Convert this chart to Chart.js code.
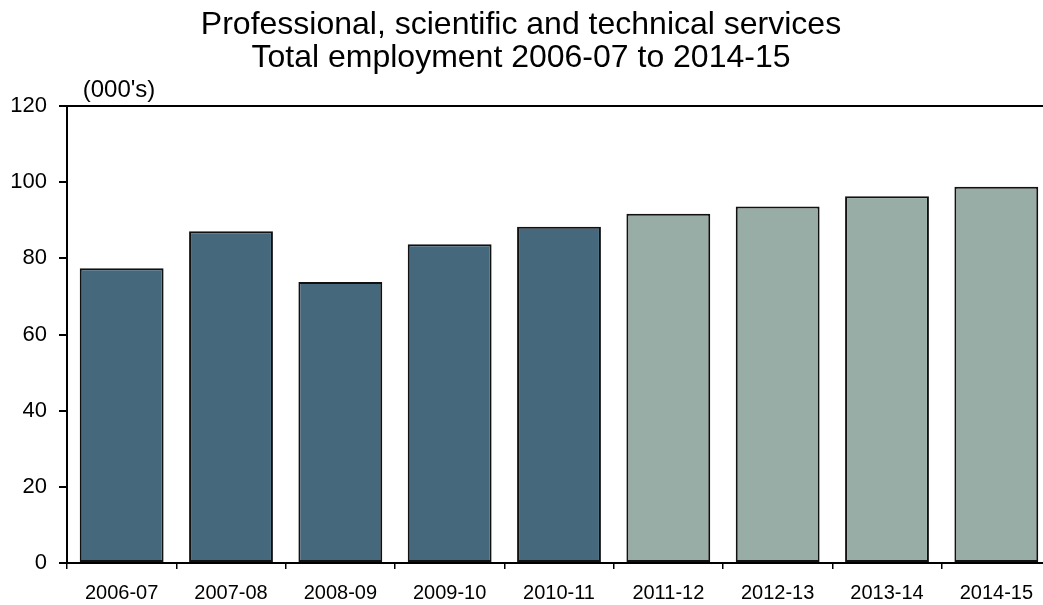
<!DOCTYPE html>
<html>
<head>
<meta charset="utf-8">
<script src="https://cdn.jsdelivr.net/npm/chart.js@4/dist/chart.umd.min.js"></script>
<style>
  html, body { margin: 0; padding: 0; background: #fff; overflow: hidden; }
  #wrap { width: 1052px; height: 605px; }
</style>
</head>
<body>
<div id="wrap"><canvas id="c" width="1052" height="605"></canvas></div>
<script>
// Financial years shown on the category axis
const years = ['2006-07', '2007-08', '2008-09', '2009-10', '2010-11', '2011-12', '2012-13', '2013-14', '2014-15'];
// Total employment, thousands of persons
const employment = [77.4, 87.1, 73.8, 83.7, 88.3, 91.7, 93.6, 96.3, 98.8];
// Which years are projections rather than recorded figures
const projected = [false, false, false, false, false, true, true, true, true];
// Value-axis tick labels
const yTicks = [0, 20, 40, 60, 80, 100, 120];

const titleLines = ['Professional, scientific and technical services', 'Total employment 2006-07 to 2014-15'];
const unitLabel = "(000's)";

const DARK = '#46687c';
const LIGHT = '#97ada6';
const FONT = '"Liberation Sans", Arial, sans-serif';

// Headline and unit caption drawn onto the canvas
const headings = {
  id: 'headings',
  afterDraw(chart) {
    const ctx = chart.ctx;
    ctx.save();
    ctx.fillStyle = '#000';
    ctx.textAlign = 'center';
    ctx.textBaseline = 'alphabetic';
    ctx.font = '32px ' + FONT;
    ctx.fillText(titleLines[0], 521, 34);
    ctx.fillText(titleLines[1], 521, 67);
    ctx.font = '24px ' + FONT;
    ctx.fillText(unitLabel, 119, 97);
    ctx.restore();
  }
};

new Chart(document.getElementById('c'), {
  type: 'bar',
  data: {
    labels: years,
    datasets: [{
      data: employment,
      backgroundColor: projected.map(p => p ? LIGHT : DARK),
      borderColor: '#111',
      borderWidth: 2,
      borderSkipped: false,
      barPercentage: 0.767,
      categoryPercentage: 1.0
    }]
  },
  options: {
    responsive: false,
    animation: false,
    devicePixelRatio: 1,
    layout: { padding: { top: 106, right: 1, left: 0, bottom: 0 } },
    plugins: { legend: { display: false }, title: { display: false }, tooltip: { enabled: false } },
    scales: {
      x: {
        offset: true,
        grid: { offset: true, drawOnChartArea: false, drawTicks: true, tickLength: 6, tickColor: '#000', lineWidth: 1.5 },
        border: { display: true, color: '#000', width: 2 },
        ticks: { color: '#000', font: { family: FONT, size: 20 }, padding: 12, maxRotation: 0, autoSkip: false },
        afterFit(scale) { scale.height = 42; }
      },
      y: {
        min: 0,
        max: 120,
        afterBuildTicks(scale) { scale.ticks = yTicks.map(v => ({ value: v })); },
        grid: {
          color: ctx => (ctx.tick && ctx.tick.value === 120) ? '#000' : 'rgba(0,0,0,0)',
          lineWidth: 2,
          drawTicks: true,
          tickLength: 8,
          tickColor: '#000'
        },
        border: { display: true, color: '#000', width: 2 },
        ticks: { color: '#000', font: { family: FONT, size: 22 }, padding: 12 },
        afterFit(scale) { scale.width = 67; }
      }
    }
  },
  plugins: [headings]
});
</script>
</body>
</html>
